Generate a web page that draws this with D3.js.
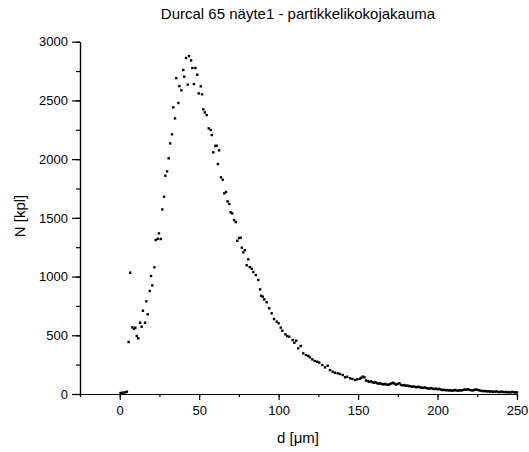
<!DOCTYPE html>
<html>
<head>
<meta charset="utf-8">
<script src="https://cdn.jsdelivr.net/npm/d3@7"></script>
<style>
  body { margin: 0; background: #fff; }
  text { font-family: "Liberation Sans", Arial, sans-serif; fill: #000; }
</style>
</head>
<body>
<div id="chart"></div>
<script>
// particle size d [um] and count N [kpl]
const dVals = [0.5, 1.5, 2.5, 3.5, 4.5, 5.6, 6.6, 7.9, 9.0, 9.8, 10.7, 11.7, 12.8, 13.8, 14.6, 15.9, 16.7, 17.6, 18.9, 19.7,
  20.5, 21.8, 22.6, 23.9, 24.7, 25.8, 26.8, 27.9, 28.7, 29.8, 30.8, 31.8, 32.9, 33.7, 34.8, 35.6, 36.9, 37.5, 38.8, 40.0,
  40.6, 41.7, 42.8, 43.6, 44.9, 45.7, 46.7, 47.6, 48.8, 49.7, 51.0, 51.8, 52.6, 53.5, 54.7, 56.0, 57.3, 57.9, 58.9, 60.2,
  61.0, 61.8, 62.5, 63.7, 64.8, 65.8, 66.9, 67.9, 69.0, 69.8, 70.8, 72.0, 73.0, 74.0, 75.1, 76.1, 76.8, 77.8, 78.7, 79.9,
  80.9, 81.8, 83.1, 84.1, 85.6, 87.2, 88.3, 89.0, 90.0, 91.0, 92.5, 94.1, 95.6, 97.1, 98.8, 100.0, 101.3, 102.3, 104.2, 105.4,
  106.7, 108.8, 109.9, 111.1, 112.3, 113.9, 115.5, 117.2, 118.7, 119.7, 121.2, 122.7, 124.3, 125.6, 127.5, 129.2, 130.9, 132.3, 134.0, 135.5,
  137.2, 138.6, 140.3, 141.8, 143.2, 144.9, 146.4, 148.1, 149.5,
  151, 152, 153, 154, 155, 156, 157, 158, 159, 160, 161, 162, 163, 164, 165, 166, 167, 168, 169, 170,
  171, 172, 173, 174, 175, 176, 177, 178, 179, 180, 181, 182, 183, 184, 185, 186, 187, 188, 189, 190,
  191, 192, 193, 194, 195, 196, 197, 198, 199, 200, 201, 202, 203, 204, 205, 206, 207, 208, 209, 210,
  211, 212, 213, 214, 215, 216, 217, 218, 219, 220, 221, 222, 223, 224, 225, 226, 227, 228, 229, 230,
  231, 232, 233, 234, 235, 236, 237, 238, 239, 240, 241, 242, 243, 244, 245, 246, 247, 248, 249, 250]
const nVals = [8, 10, 12, 14, 20, 443, 1033, 568, 556, 565, 494, 474, 607, 573, 709, 607, 789, 679, 877, 1005,
  925, 1079, 1311, 1322, 1368, 1320, 1572, 1680, 1859, 1896, 2007, 2134, 2211, 2441, 2347, 2690, 2478, 2622, 2586, 2759,
  2702, 2861, 2634, 2878, 2841, 2776, 2639, 2776, 2719, 2560, 2620, 2552, 2424, 2398, 2375, 2262, 2248, 2205, 2058, 2112,
  2114, 1958, 2075, 1845, 1825, 1709, 1720, 1640, 1618, 1547, 1538, 1481, 1464, 1305, 1328, 1331, 1246, 1206, 1226, 1096,
  1147, 1081, 1067, 1039, 1013, 971, 891, 837, 829, 806, 781, 730, 687, 639, 616, 602, 565, 539, 508, 494,
  488, 460, 437, 454, 389, 409, 346, 332, 324, 312, 295, 281, 275, 267, 247, 227, 241, 204, 190, 181,
  176, 170, 162, 142, 147, 134, 128, 119, 125,
  130, 138, 148, 142, 115, 110, 104, 108, 100, 96, 99, 92, 88, 90, 85, 82, 86, 80, 78, 84,
  90, 96, 88, 80, 86, 92, 78, 74, 76, 70, 72, 68, 66, 62, 64, 60, 58, 62, 56, 54,
  52, 56, 50, 48, 46, 50, 44, 42, 46, 40, 44, 38, 34, 36, 32, 34, 30, 32, 28, 30,
  34, 30, 28, 32, 30, 34, 38, 36, 40, 36, 32, 30, 34, 38, 36, 32, 28, 26, 24, 26,
  22, 24, 20, 22, 18, 20, 22, 18, 16, 20, 18, 16, 18, 14, 16, 14, 18, 15, 12, 14]

const xTicks = [0, 50, 100, 150, 200, 250]
const yTicks = [0, 500, 1000, 1500, 2000, 2500, 3000]

const W = 529, H = 452
const svg = d3.select('#chart').append('svg').attr('width', W).attr('height', H)

const x = d3.scaleLinear().domain([-25, 250]).range([80, 517])
const y = d3.scaleLinear().domain([0, 3000]).range([394, 41.7])

// x axis, minor ticks every 25
const xAxis = svg.append('g').attr('transform', `translate(0,${y(0)})`)
xAxis.call(d3.axisBottom(x).tickValues(d3.range(-25, 251, 25)).tickSize(3).tickFormat('').tickSizeOuter(0))
xAxis.append('g').call(d3.axisBottom(x).tickValues(xTicks).tickSize(6).tickSizeOuter(0).tickPadding(6).tickFormat(d3.format('d')))
xAxis.selectAll('text').attr('font-size', 13).attr('font-family', 'Liberation Sans, Arial, sans-serif')

const yAxis = svg.append('g').attr('transform', `translate(${x(-25)},0)`)
yAxis.call(d3.axisLeft(y).tickValues(d3.range(0, 3001, 250)).tickSize(4).tickFormat('').tickSizeOuter(0))
yAxis.append('g').call(d3.axisLeft(y).tickValues(yTicks).tickSize(8).tickSizeOuter(0).tickPadding(4).tickFormat(d3.format('d')))
yAxis.selectAll('text').attr('font-size', 13).attr('font-family', 'Liberation Sans, Arial, sans-serif')
svg.selectAll('.domain, .tick line').attr('stroke', '#000').attr('stroke-width', 1.2)

svg.append('g').selectAll('rect')
  .data(dVals.map((d, i) => [d, nVals[i]]))
  .enter()
  .append('rect')
  .attr('x', d => x(d[0]) - 1.2)
  .attr('y', d => y(d[1]) - 1.2)
  .attr('width', 2.4)
  .attr('height', 2.4)
  .attr('fill', '#000')

svg.append('text').attr('x', 298).attr('y', 19).attr('text-anchor', 'middle')
  .attr('font-size', 15).text('Durcal 65 näyte1 - partikkelikokojakauma')
svg.append('text').attr('x', 298).attr('y', 443).attr('text-anchor', 'middle')
  .attr('font-size', 15).text('d [μm]')
svg.append('text').attr('transform', 'translate(25,216) rotate(-90)').attr('text-anchor', 'middle')
  .attr('font-size', 15).text('N [kpl]')
</script>
</body>
</html>
